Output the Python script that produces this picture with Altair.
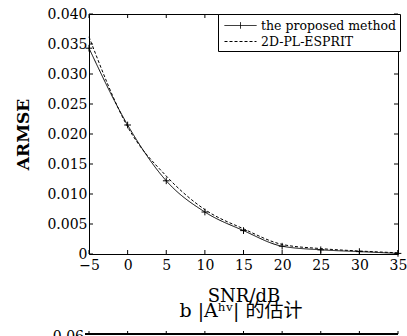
import altair as alt
import pandas as pd

snr = [-5, 0, 5, 10, 15, 20, 25, 30, 35]
proposed = [0.0343, 0.0215, 0.0122, 0.0070, 0.0039, 0.0013, 0.0007, 0.0004, 0.0001]
esprit = [0.0362, 0.0212, 0.0130, 0.0074, 0.0042, 0.0016, 0.0009, 0.0005, 0.0002]
series_names = ["the proposed method", "2D-PL-ESPRIT"]
x_ticks = [-5, 0, 5, 10, 15, 20, 25, 30, 35]
y_ticks = [0, 0.005, 0.010, 0.015, 0.020, 0.025, 0.030, 0.035, 0.040]
x_title = "SNR/dB"
y_title = "ARMSE"
caption = "b  |Aʰᵛ| 的估计"
next_label = "0.06"

W, H = 309, 240

rows = []
for i, s in enumerate(snr):
    rows.append({"snr": s, "armse": proposed[i], "series": series_names[0]})
    rows.append({"snr": s, "armse": esprit[i], "series": series_names[1]})
df = pd.DataFrame(rows)
xt = pd.DataFrame({"v": x_ticks})
yt = pd.DataFrame({"v": y_ticks})

xs = alt.Scale(domain=[-5, 35], nice=False, zero=False)
ys = alt.Scale(domain=[0, 0.04], nice=False)

x_axis = alt.Axis(
    values=x_ticks, title=x_title, labelPadding=4, titlePadding=15, labelOverlap=False,
    labelFlush=False,
    titleFont="DejaVu Serif", titleFontSize=18, titleFontWeight="normal")
y_axis = alt.Axis(
    values=y_ticks, title=y_title, labelPadding=2, titlePadding=14, labelOverlap=False,
    labelFlush=False,
    labelExpr="datum.value == 0 ? '0' : format(datum.value, '.3f')",
    titleFont="DejaVu Serif", titleFontSize=17, titleFontWeight="bold")

legend_shape = ("datum.value == '" + series_names[0] + "' ? 'M-2,0L2,0M0,-0.4L0,0.4' : 'M-2,0L2,0'")

lines = alt.Chart(df).mark_line(color="black", strokeWidth=1, interpolate="monotone").encode(
    x=alt.X("snr:Q", scale=xs, axis=x_axis),
    y=alt.Y("armse:Q", scale=ys, axis=y_axis),
    strokeDash=alt.StrokeDash(
        "series:N", scale=alt.Scale(domain=series_names, range=[[1, 0], [3, 2]]),
        legend=alt.Legend(title=None, orient="none", legendX=129, legendY=0,
                          fillColor="white", strokeColor="black", padding=3,
                          symbolType={"expr": legend_shape}, symbolSize=256, symbolStrokeWidth=1,
                          symbolStrokeColor="black", symbolFillColor="transparent",
                          symbolOffset=11, labelOffset=12,
                          labelFont="DejaVu Serif", labelFontSize=12.5, labelColor="black",
                          rowPadding=1)),
)

points = alt.Chart(df).transform_filter(
    alt.datum.series == series_names[0]
).mark_point(shape="M-1,0L1,0M0,-1L0,1", size=45, stroke="black", strokeWidth=1, filled=False, opacity=1).encode(
    x=alt.X("snr:Q", scale=xs, axis=x_axis), y=alt.Y("armse:Q", scale=ys, axis=y_axis)
)

tb = alt.Chart(xt).mark_rule(color="black", strokeWidth=1).encode(
    x=alt.X("v:Q", scale=xs, axis=x_axis), y=alt.value(H), y2=alt.value(H - 4))
tt = alt.Chart(xt).mark_rule(color="black", strokeWidth=1).encode(
    x=alt.X("v:Q", scale=xs, axis=x_axis), y=alt.value(0), y2=alt.value(4))
tl = alt.Chart(yt).mark_rule(color="black", strokeWidth=1).encode(
    y=alt.Y("v:Q", scale=ys, axis=y_axis), x=alt.value(0), x2=alt.value(4))
tr = alt.Chart(yt).mark_rule(color="black", strokeWidth=1).encode(
    y=alt.Y("v:Q", scale=ys, axis=y_axis), x=alt.value(W), x2=alt.value(W - 4))

cap = alt.Chart(pd.DataFrame({"t": [caption]})).mark_text(
    font="DejaVu Serif, Noto Sans CJK SC", fontSize=19, color="black", baseline="middle", align="center"
).encode(text="t:N", x=alt.value(152), y=alt.value(297))

nxt = alt.Chart(pd.DataFrame({"t": [next_label]})).mark_text(
    font="DejaVu Serif", fontSize=14, color="black", baseline="alphabetic", align="right"
).encode(text="t:N", x=alt.value(-5), y=alt.value(327))
nline = alt.Chart(xt).mark_rule(color="black", strokeWidth=1).encode(
    x=alt.value(-4), x2=alt.value(W), y=alt.value(320))
nticks = alt.Chart(xt).mark_rule(color="black", strokeWidth=1).encode(
    x=alt.X("v:Q", scale=xs, axis=x_axis), y=alt.value(317), y2=alt.value(320))

chart = alt.layer(lines, points, tb, tt, tl, tr, cap, nxt, nline, nticks).properties(
    width=W, height=H,
    autosize=alt.AutoSizeParams(type="none"),
    padding={"left": 89, "top": 14, "right": 9, "bottom": 82},
    background="white",
).configure_view(stroke="black", strokeWidth=1).configure_axis(
    labelFont="DejaVu Serif", labelFontSize=14, labelColor="black", titleColor="black",
    domain=False, ticks=False, grid=False, labelOverlap=False, labelFlush=False,
)

chart.save("out.html", embed_options={"renderer": "svg", "actions": False})
